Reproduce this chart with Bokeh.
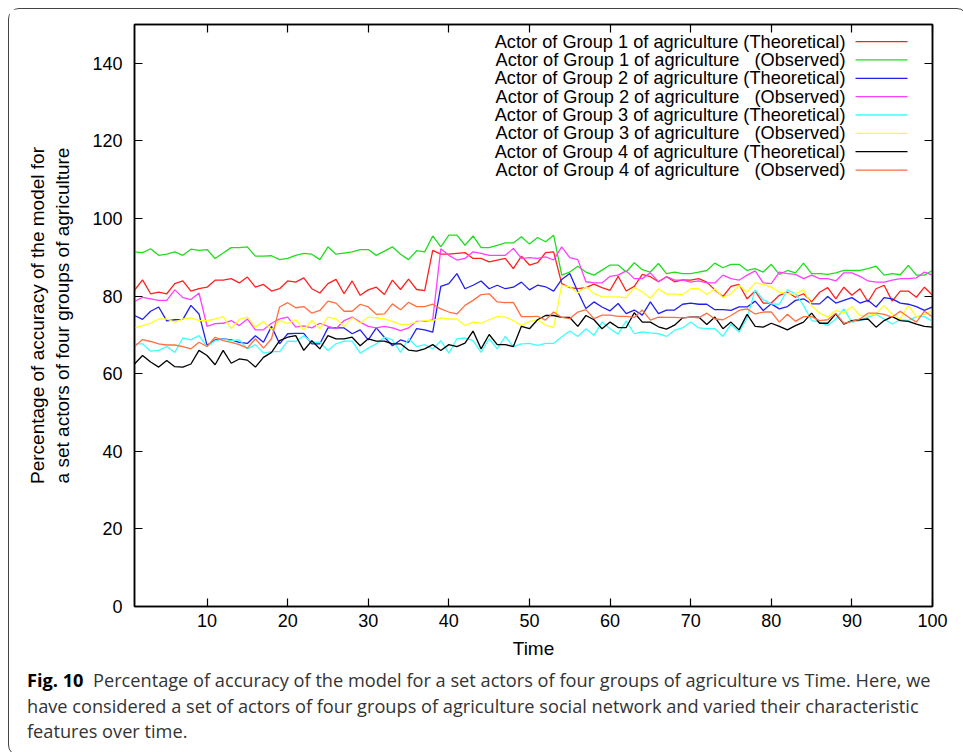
import numpy as np
from bokeh.plotting import figure
from bokeh.models import Range1d, LinearAxis, FixedTicker, CustomJSTickFormatter, Div
from bokeh.layouts import column
from bokeh.core.properties import value
from bokeh.embed import file_html
from bokeh.resources import INLINE

# time steps
time = list(range(1, 101))

# values (percentage of accuracy)
g1_theoretical = [
    81.5, 84.2, 80.6, 81.0, 80.6, 83.2, 83.9, 81.3, 81.9, 82.3, 84.1, 84.1, 84.5, 83.4, 84.9, 82.3, 83.0, 81.3, 81.9, 83.9,
    83.6, 84.7, 81.9, 80.8, 83.2, 84.3, 80.6, 83.9, 80.2, 81.6, 82.3, 80.4, 84.1, 81.7, 84.4, 81.7, 81.4, 91.8, 90.8, 90.8,
    91.0, 91.2, 89.7, 89.7, 88.8, 89.3, 89.7, 87.1, 90.3, 88.0, 88.6, 91.2, 91.4, 83.2, 82.2, 81.9, 82.2, 83.1, 82.2, 81.5,
    85.1, 81.3, 82.5, 85.6, 85.0, 83.7, 85.0, 83.7, 84.2, 84.1, 84.5, 83.6, 81.6, 79.9, 82.5, 83.0, 79.3, 81.3, 78.2, 78.2,
    80.2, 81.0, 79.7, 80.6, 78.5, 81.0, 82.2, 79.3, 82.3, 80.2, 81.9, 78.5, 81.9, 82.8, 78.7, 81.3, 81.3, 79.7, 82.3, 80.2]
g1_observed = [
    91.4, 91.2, 92.2, 90.5, 90.8, 91.4, 90.5, 92.1, 91.8, 92.0, 89.7, 91.1, 92.5, 92.5, 92.7, 90.3, 90.3, 90.4, 89.4, 89.7,
    90.5, 91.0, 90.8, 89.4, 92.7, 90.8, 91.1, 91.4, 92.0, 92.0, 90.5, 91.6, 92.7, 90.8, 89.4, 91.7, 91.4, 95.5, 92.7, 95.7,
    95.7, 93.1, 95.5, 92.5, 92.5, 93.1, 93.7, 93.7, 95.3, 93.4, 95.1, 94.0, 95.7, 85.4, 86.2, 87.7, 86.2, 85.4, 86.7, 88.0,
    88.0, 86.2, 88.6, 86.8, 86.2, 88.4, 85.8, 86.2, 85.8, 85.8, 86.2, 86.6, 88.5, 87.3, 88.2, 88.2, 86.6, 87.1, 86.2, 88.2,
    85.6, 86.6, 86.0, 88.5, 85.8, 85.8, 85.6, 86.0, 86.6, 86.6, 86.6, 87.1, 87.7, 85.4, 85.8, 85.5, 87.9, 85.4, 85.4, 86.6]
g2_theoretical = [
    75.0, 74.0, 76.1, 77.2, 73.6, 73.9, 74.0, 77.6, 75.4, 67.3, 68.7, 69.0, 68.7, 68.1, 67.8, 69.8, 68.1, 72.2, 67.7, 70.3,
    70.4, 70.4, 67.7, 67.7, 71.8, 71.8, 71.8, 70.3, 71.3, 68.7, 71.8, 69.4, 67.2, 68.7, 68.1, 71.6, 71.3, 70.7, 82.5, 83.2,
    85.8, 81.9, 82.8, 83.9, 81.9, 82.8, 81.9, 82.3, 83.6, 81.6, 82.8, 82.4, 81.3, 84.3, 85.8, 81.1, 76.8, 78.5, 77.2, 76.2,
    78.1, 75.5, 76.4, 75.1, 78.5, 75.5, 76.4, 76.4, 77.9, 78.2, 77.9, 77.9, 76.5, 76.5, 76.3, 77.2, 77.2, 78.7, 76.3, 78.0,
    76.7, 77.3, 78.9, 79.3, 78.0, 78.0, 79.9, 78.2, 78.9, 79.6, 78.2, 78.9, 77.2, 79.6, 79.3, 78.2, 77.9, 77.3, 76.3, 77.2]
g2_observed = [
    78.6, 79.7, 79.3, 78.9, 78.9, 81.6, 79.6, 79.1, 80.8, 72.2, 72.9, 73.0, 73.7, 72.4, 74.1, 71.3, 71.3, 73.0, 74.1, 74.6,
    72.0, 72.3, 71.8, 73.0, 72.2, 71.6, 73.7, 74.6, 73.3, 72.2, 71.8, 72.2, 71.8, 71.1, 71.8, 73.5, 73.5, 73.9, 92.2, 90.5,
    89.3, 89.7, 91.4, 91.0, 90.5, 90.5, 90.5, 92.3, 89.7, 89.9, 89.7, 90.1, 89.3, 92.7, 89.9, 89.4, 83.7, 83.4, 83.4, 85.1,
    85.4, 86.5, 84.5, 84.5, 86.0, 83.7, 85.0, 84.1, 84.1, 83.6, 83.9, 83.4, 83.4, 85.4, 84.5, 84.1, 85.4, 86.5, 83.4, 83.2,
    86.2, 85.8, 85.6, 84.5, 85.4, 84.5, 84.5, 83.9, 86.0, 86.0, 85.1, 83.9, 83.6, 83.6, 84.1, 84.5, 84.5, 84.7, 86.2, 85.4]
g3_theoretical = [
    67.7, 67.7, 65.8, 66.0, 67.0, 65.5, 69.2, 68.7, 69.8, 67.0, 68.5, 68.9, 68.5, 68.7, 66.4, 67.5, 65.3, 65.7, 65.7, 68.4,
    68.3, 69.8, 68.1, 68.1, 66.0, 67.7, 68.4, 68.4, 65.3, 66.6, 67.7, 69.4, 68.7, 65.5, 69.0, 67.0, 67.5, 66.4, 68.5, 65.3,
    69.0, 69.2, 68.5, 65.5, 69.0, 66.4, 69.6, 67.0, 67.7, 67.8, 67.3, 67.8, 67.8, 69.5, 71.0, 69.6, 71.6, 69.9, 73.3, 71.6,
    70.2, 73.6, 70.3, 70.8, 70.5, 70.3, 69.6, 71.2, 71.8, 73.3, 71.8, 71.6, 71.6, 69.6, 72.8, 70.7, 74.4, 81.6, 79.1, 78.0,
    77.9, 81.6, 80.6, 77.6, 73.7, 73.3, 72.4, 74.1, 76.7, 73.3, 73.7, 74.6, 75.3, 74.1, 72.8, 73.9, 73.7, 74.7, 74.7, 73.5]
g3_observed = [
    71.8, 72.4, 73.0, 74.1, 74.1, 73.3, 74.1, 74.4, 73.7, 73.7, 74.1, 74.7, 71.6, 74.0, 74.6, 72.0, 73.5, 71.3, 73.7, 72.9,
    73.9, 71.3, 73.7, 71.6, 74.6, 74.1, 72.2, 74.4, 73.0, 74.6, 74.4, 74.1, 73.5, 72.7, 72.7, 73.3, 73.7, 73.7, 74.4, 74.1,
    74.1, 72.4, 73.3, 73.0, 73.9, 74.7, 74.6, 73.7, 72.4, 73.5, 73.9, 72.5, 71.9, 82.8, 82.4, 80.8, 82.4, 80.7, 79.8, 79.8,
    79.8, 79.6, 82.2, 81.1, 79.4, 81.9, 80.5, 80.5, 80.4, 81.9, 81.9, 80.4, 81.9, 79.6, 80.6, 82.8, 81.0, 83.4, 83.0, 82.3,
    81.0, 80.6, 80.6, 81.6, 77.6, 75.6, 74.6, 76.3, 75.6, 77.3, 75.0, 75.0, 75.4, 77.6, 75.3, 74.1, 77.6, 74.7, 75.3, 76.3]
g4_theoretical = [
    62.5, 64.7, 63.0, 61.7, 63.4, 61.8, 61.7, 62.5, 66.0, 64.7, 62.3, 66.0, 62.7, 63.8, 63.5, 61.7, 64.2, 65.5, 68.5, 69.4,
    69.8, 66.0, 68.5, 66.4, 69.8, 69.0, 69.0, 69.4, 67.2, 69.0, 68.4, 68.4, 67.7, 67.7, 66.1, 65.8, 66.4, 67.5, 66.0, 67.5,
    67.0, 67.9, 71.0, 66.4, 70.1, 67.5, 67.5, 67.0, 72.2, 71.6, 73.9, 75.0, 75.0, 74.5, 74.5, 72.2, 75.0, 73.9, 71.6, 73.3,
    71.9, 71.9, 75.7, 73.3, 73.3, 72.1, 71.5, 72.5, 74.4, 74.6, 74.6, 72.7, 74.6, 71.6, 73.3, 71.3, 75.3, 72.2, 72.0, 73.0,
    72.2, 71.3, 72.4, 73.3, 75.6, 73.0, 73.0, 75.4, 72.8, 73.7, 73.9, 74.1, 72.0, 73.7, 74.7, 73.7, 73.5, 72.8, 72.2, 72.0]
g4_observed = [
    67.0, 68.8, 68.3, 67.7, 67.4, 67.4, 67.0, 66.4, 68.1, 67.0, 69.4, 68.5, 68.1, 67.5, 66.6, 69.0, 66.6, 69.0, 77.2, 78.3,
    77.0, 77.3, 75.6, 76.3, 78.7, 78.2, 76.1, 76.1, 77.9, 77.2, 75.3, 75.4, 78.0, 76.5, 78.4, 77.3, 77.3, 77.9, 76.7, 75.9,
    75.4, 77.6, 78.9, 80.4, 80.6, 78.5, 78.3, 78.4, 74.7, 74.7, 74.8, 73.8, 75.9, 74.5, 74.2, 75.9, 76.5, 74.2, 75.1, 75.1,
    74.8, 74.8, 74.5, 76.4, 73.8, 74.6, 74.5, 74.5, 74.4, 74.6, 74.4, 75.6, 74.1, 73.9, 75.0, 76.3, 76.7, 75.4, 75.9, 75.9,
    73.3, 75.3, 73.5, 74.7, 74.7, 73.7, 73.9, 75.6, 73.0, 73.5, 74.1, 75.6, 75.6, 75.3, 74.6, 76.1, 74.6, 73.3, 76.1, 74.6]

x_ticks = [10, 20, 30, 40, 50, 60, 70, 80, 90, 100]
y_ticks = [0, 20, 40, 60, 80, 100, 120, 140]

series = [
    ("Actor of Group 1 of agriculture", "(Theoretical)", g1_theoretical, "#ff2020"),
    ("Actor of Group 1 of agriculture", "(Observed)", g1_observed, "#20dd20"),
    ("Actor of Group 2 of agriculture", "(Theoretical)", g2_theoretical, "#2020ee"),
    ("Actor of Group 2 of agriculture", "(Observed)", g2_observed, "#ff40ff"),
    ("Actor of Group 3 of agriculture", "(Theoretical)", g3_theoretical, "#40ffff"),
    ("Actor of Group 3 of agriculture", "(Observed)", g3_observed, "#ffff20"),
    ("Actor of Group 4 of agriculture", "(Theoretical)", g4_theoretical, "#000000"),
    ("Actor of Group 4 of agriculture", "(Observed)", g4_observed, "#ff7040"),
]

FONT = "Liberation Sans"
KEY_SIZE = "18.2px"

p = figure(width=948, height=652,
           x_range=Range1d(1, 100), y_range=Range1d(0, 150),
           output_backend="svg", toolbar_location=None,
           min_border_left=125, min_border_right=25,
           min_border_top=15, min_border_bottom=55)
p.xgrid.visible = False
p.ygrid.visible = False
p.outline_line_color = "black"
p.outline_line_width = 1.5
p.background_fill_color = "white"
p.border_fill_color = "white"

p.xaxis.ticker = FixedTicker(ticks=x_ticks)
p.yaxis.ticker = FixedTicker(ticks=y_ticks)
p.xaxis.axis_label = "Time"
p.yaxis.axis_label = ("Percentage of accuracy of the model for\n"
                      "a set actors of four groups of agriculture")
p.xaxis.major_label_standoff = 7
p.yaxis.major_label_standoff = 12
p.xaxis.axis_label_standoff = 8
p.yaxis.axis_label_standoff = 16

# top and right axes only carry the mirrored ticks
top = LinearAxis(ticker=FixedTicker(ticks=x_ticks),
                 formatter=CustomJSTickFormatter(code="return ''"))
right = LinearAxis(ticker=FixedTicker(ticks=y_ticks),
                   formatter=CustomJSTickFormatter(code="return ''"))
p.add_layout(top, "above")
p.add_layout(right, "right")

for ax in p.axis:
    ax.major_tick_in = 8
    ax.major_tick_out = 0
    ax.minor_tick_in = 0
    ax.minor_tick_out = 0
    ax.axis_line_color = "black"
    ax.axis_line_width = 1.5
    ax.major_tick_line_width = 1.2
    ax.major_label_text_font = FONT
    ax.major_label_text_font_size = "18px"
    ax.major_label_text_color = "black"
    ax.axis_label_text_font = FONT
    ax.axis_label_text_font_size = "19px"
    ax.axis_label_text_font_style = "normal"
    ax.axis_label_text_color = "black"
top.major_label_text_font_size = "1px"
right.major_label_text_font_size = "1px"
top.major_label_standoff = 0
right.major_label_standoff = 0

# data lines
for name, kind, vals, color in series:
    p.line(time, vals, line_color=color, line_width=1.3)

# gnuplot style key: right-aligned text, line sample on the right
key_left = 45.8
key_right = 89.2
key_line = (90.45, 96.9)
key_top = 145.6
key_step = 4.73
for i, (name, kind, vals, color) in enumerate(series):
    ky = key_top - i * key_step
    if kind == "(Theoretical)":
        p.text(x=[key_right], y=[ky], text=[name + " " + kind], text_align="right",
               text_baseline="middle", text_font=value(FONT), text_font_size=KEY_SIZE,
               text_color="black")
    else:
        p.text(x=[key_left], y=[ky], text=[name], text_align="left", text_baseline="middle",
               text_font=value(FONT), text_font_size=KEY_SIZE, text_color="black")
        p.text(x=[key_right], y=[ky], text=[kind], text_align="right", text_baseline="middle",
               text_font=value(FONT), text_font_size=KEY_SIZE, text_color="black")
    p.segment(x0=[key_line[0]], y0=[ky], x1=[key_line[1]], y1=[ky],
              line_color=color, line_width=1.3)

caption = Div(
    text=('<div style="padding:2px 0 0 13px; font-family:\'Open Sans\'; font-size:18.2px; '
          'line-height:25.5px; color:#333; white-space:nowrap;">'
          '<b style="color:#000;">Fig. 10</b>&nbsp; Percentage of accuracy of the model for a set actors '
          'of four groups of agriculture vs Time. Here, we<br>'
          'have considered a set of actors of four groups of agriculture social network and varied '
          'their characteristic<br>features over time.</div>'),
    width=948, height=84)

layout = column(p, caption, styles={"border": "1px solid #444", "border-radius": "11px",
                                    "background": "white", "margin": "8px 0 0 8px"})

open("out.html", "w").write(file_html(layout, INLINE))
